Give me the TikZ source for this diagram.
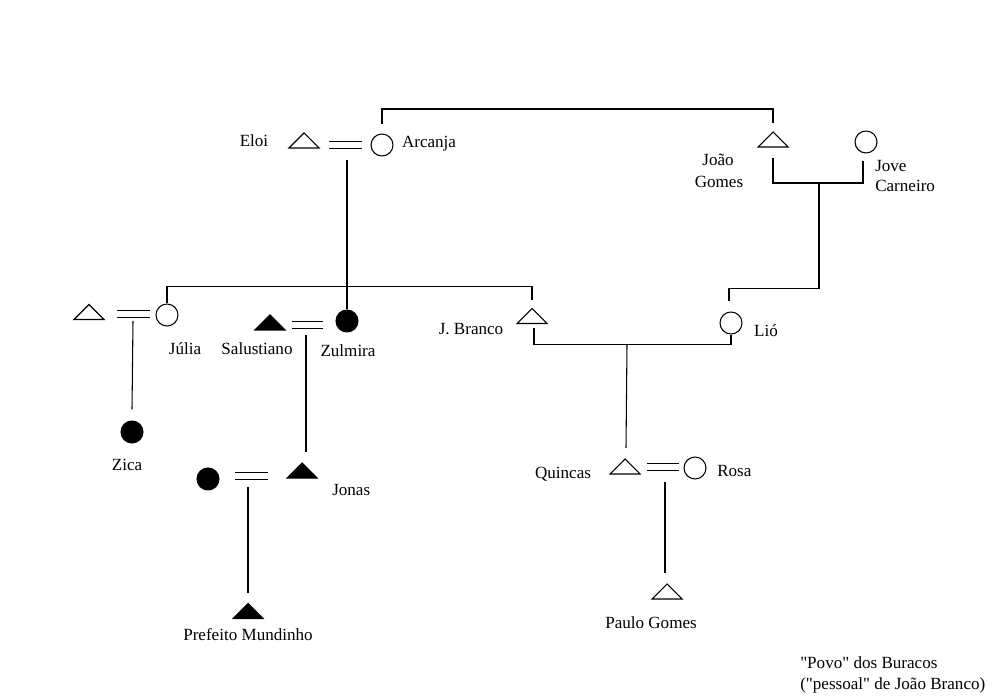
\documentclass[tikz,border=0pt]{standalone}
\usepackage{fontspec}
\setmainfont{Liberation Serif}
\usetikzlibrary{calc}

\tikzset{
  kin/.style={line width=0.8pt, black},
  % triangle symbol for a man; #1 = fill colour
  man/.style={shape=rectangle, inner sep=0pt, outer sep=0pt,
    minimum width=22.5pt, minimum height=11.25pt,
    append after command={\pgfextra{\draw[kin, fill=#1, line join=miter]
      (\tikzlastnode.south west) -- (\tikzlastnode.north) --
      (\tikzlastnode.south east) -- cycle;}}},
  man/.default=white,
  % circle symbol for a woman
  woman/.style={shape=circle, draw, line width=0.8pt, inner sep=0pt,
    minimum size=16.5pt, fill=#1},
  woman/.default=white,
  wed/.style={kin, double, double distance=4.6pt},
  lbl/.style={font=\fontsize{12.8}{15}\selectfont, inner sep=0pt, anchor=base},
  lbll/.style={lbl, anchor=base west}
}

\begin{document}
\begin{tikzpicture}[x=0.75pt, y=-0.75pt]
\useasboundingbox (0,0) rectangle (999,698);

% --- people ---------------------------------------------------------
\node[man] (eloi) at (304,140.5) {};
\node[woman] (arcanja) at (382,145) {};
\node[man] (joao) at (773,139.5) {};
\node[woman] (jove) at (866,142) {};

\node[man] (jhusb) at (89,312) {};
\node[woman] (julia) at (167,315) {};
\node[man=black] (salustiano) at (270,322.5) {};
\node[woman=black] (zulmira) at (347,321) {};
\node[man] (jbranco) at (532,316) {};
\node[woman] (lio) at (731,323) {};

\node[woman=black] (zica) at (132,432) {};
\node[woman=black] (jwife) at (208,479) {};
\node[man=black] (jonas) at (302,470.5) {};
\node[man] (quincas) at (625,466.5) {};
\node[woman] (rosa) at (695,468) {};

\node[man=black] (prefeito) at (248,611) {};
\node[man] (paulo) at (667,591.5) {};

% --- marriages ------------------------------------------------------
\coordinate (mEA) at (345.5,145);
\coordinate (mJU) at (133.5,314);
\coordinate (mSZ) at (307.5,325);
\coordinate (mJW) at (251.5,476);
\coordinate (mQR) at (663,467);

\draw[wed] ($(mEA)+(-16.5,0)$) -- ($(mEA)+(16.5,0)$);
\draw[wed] ($(mJU)+(-16.5,0)$) -- ($(mJU)+(16.5,0)$);
\draw[wed] ($(mSZ)+(-15.5,0)$) -- ($(mSZ)+(15.5,0)$);
\draw[wed] ($(mJW)+(-16.5,0)$) -- ($(mJW)+(16.5,0)$);
\draw[wed] ($(mQR)+(-16,0)$) -- ($(mQR)+(16,0)$);

% --- sibling and descent lines --------------------------------------
% Arcanja and João Gomes
\draw[kin] ($(arcanja.north)+(0,-9)$) |- ($(joao.north)+(0,-23)$)
  -- ($(joao.north)+(0,-9)$);

% Eloi = Arcanja -> Zulmira, with the sibling bar to Júlia and J. Branco
\draw[kin] ($(mEA)+(1.5,15)$) -- (zulmira.north);
\draw[kin] (julia.north) |- ($(jbranco.north)+(0,-22)$)
  -- ($(jbranco.north)+(0,-8)$);

% João Gomes = Jove Carneiro -> Lió
\coordinate (cJG) at ($(joao.south)+(0,36)$);
\draw[kin] ($(joao.south)+(0,11)$) -- (cJG) -- ($(cJG)+(90,0)$)
  -- ($(jove.south)+(-3,7)$);
\draw[kin] ($(cJG)+(46,0)$) |- ($(lio.north)+(-2,-23)$)
  -- ($(lio.north)+(-2,-10)$);

% J. Branco = Lió -> Quincas
\coordinate (cBL) at ($(jbranco.south)+(2,21)$);
\draw[kin] ($(jbranco.south)+(2,5)$) -- (cBL) -| (lio.south);
\draw[kin] ($(cBL)+(93,0)$) -- ($(quincas.north)+(1,-11)$);

% Júlia's marriage -> Zica
\draw[kin] ($(mJU)+(-0.5,7)$) -- ($(zica.north)+(0,-11)$);
% Salustiano = Zulmira -> Jonas
\draw[kin] ($(mSZ)+(-1.5,10)$) -- ($(jonas.north)+(4,-11)$);
% Jonas' marriage -> Prefeito Mundinho
\draw[kin] ($(mJW)+(-3.5,11)$) -- ($(prefeito.north)+(0,-11)$);
% Quincas = Rosa -> Paulo Gomes
\draw[kin] ($(mQR)+(2,15)$) -- ($(paulo.north)+(-2,-11)$);

% --- names ----------------------------------------------------------
\node[lbl] (tEloi) at (254,147) {Eloi};
\node[lbl] (tArcanja) at (429,148) {Arcanja};
\node[lbl] (tJoao) at (718,166) {João};
\node[lbl] (tGomes) at (719,188) {Gomes};
\node[lbll] (tJove) at (875,172) {Jove};
\node[lbll] (tCarneiro) at (875,192) {Carneiro};

\node[lbl] (tJulia) at (185,355) {Júlia};
\node[lbl] (tSalustiano) at (257,355) {Salustiano};
\node[lbl] (tZulmira) at (348,357) {Zulmira};
\node[lbl] (tJBranco) at (471,335) {J. Branco};
\node[lbl] (tLio) at (766,337) {Lió};

\node[lbl] (tZica) at (127,470) {Zica};
\node[lbll] (tJonas) at (332,495) {Jonas};
\node[lbl] (tQuincas) at (563,478) {Quincas};
\node[lbll] (tRosa) at (717,476) {Rosa};

\node[lbl] (tPrefeito) at (248,640) {Prefeito Mundinho};
\node[lbl] (tPaulo) at (651,628) {Paulo Gomes};

\node[lbll] (tPovo) at (800,668) {\textquotedbl Povo\textquotedbl{} dos Buracos};
\node[lbll] (tPessoal) at (800,689) {(\textquotedbl pessoal\textquotedbl{} de João Branco)};
\end{tikzpicture}
\end{document}
